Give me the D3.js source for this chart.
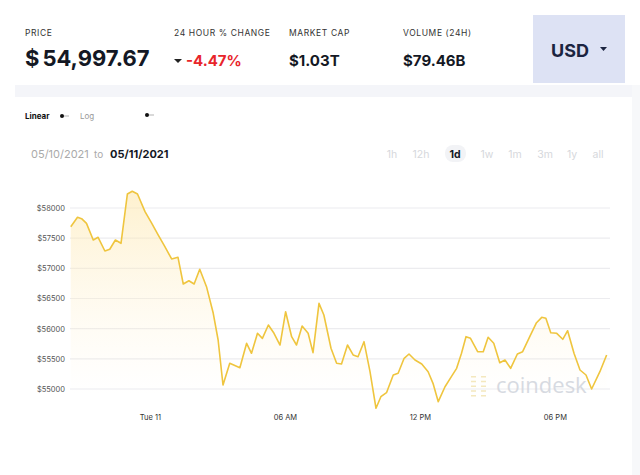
<!DOCTYPE html>
<html><head><meta charset="utf-8">
<script src="https://cdn.jsdelivr.net/npm/d3@7"></script>
<style>
html,body{margin:0;padding:0;background:#fff;}
svg{display:block;font-family:Inter,"Noto Sans",sans-serif;}
</style></head>
<body><svg id="c" width="640" height="475"></svg>
<script>
const times = ["2021-05-10 20:29","2021-05-10 20:47","2021-05-10 20:58","2021-05-10 21:11","2021-05-10 21:29","2021-05-10 21:42","2021-05-10 22:00","2021-05-10 22:13","2021-05-10 22:28","2021-05-10 22:43","2021-05-10 23:00","2021-05-10 23:13","2021-05-10 23:27","2021-05-10 23:47","2021-05-11 00:04","2021-05-11 00:22","2021-05-11 00:40","2021-05-11 00:58","2021-05-11 01:15","2021-05-11 01:29","2021-05-11 01:44","2021-05-11 01:58","2021-05-11 02:13","2021-05-11 02:31","2021-05-11 02:49","2021-05-11 03:02","2021-05-11 03:15","2021-05-11 03:33","2021-05-11 04:00","2021-05-11 04:18","2021-05-11 04:31","2021-05-11 04:47","2021-05-11 05:00","2021-05-11 05:16","2021-05-11 05:31","2021-05-11 05:47","2021-05-11 06:02","2021-05-11 06:18","2021-05-11 06:31","2021-05-11 06:46","2021-05-11 07:02","2021-05-11 07:15","2021-05-11 07:31","2021-05-11 07:44","2021-05-11 08:03","2021-05-11 08:18","2021-05-11 08:31","2021-05-11 08:47","2021-05-11 09:02","2021-05-11 09:15","2021-05-11 09:31","2021-05-11 09:47","2021-05-11 10:03","2021-05-11 10:16","2021-05-11 10:31","2021-05-11 10:49","2021-05-11 11:02","2021-05-11 11:18","2021-05-11 11:31","2021-05-11 11:47","2021-05-11 12:05","2021-05-11 12:22","2021-05-11 12:35","2021-05-11 12:49","2021-05-11 13:07","2021-05-11 13:24","2021-05-11 13:38","2021-05-11 13:51","2021-05-11 14:03","2021-05-11 14:15","2021-05-11 14:34","2021-05-11 14:49","2021-05-11 15:02","2021-05-11 15:17","2021-05-11 15:33","2021-05-11 15:47","2021-05-11 16:02","2021-05-11 16:20","2021-05-11 16:34","2021-05-11 16:53","2021-05-11 17:11","2021-05-11 17:25","2021-05-11 17:36","2021-05-11 17:49","2021-05-11 18:05","2021-05-11 18:21","2021-05-11 18:34","2021-05-11 18:51","2021-05-11 19:07","2021-05-11 19:23","2021-05-11 19:38","2021-05-11 20:00","2021-05-11 20:18"];
const prices = [57690,57846,57823,57746,57470,57514,57287,57316,57470,57415,58232,58277,58232,57939,57756,57553,57359,57155,57183,56740,56795,56740,56984,56696,56255,55812,55066,55426,55353,55757,55592,55923,55840,56061,55923,55729,56281,55867,55729,56044,55923,55602,56420,56227,55675,55426,55414,55729,55564,55535,55784,55287,54680,54872,54939,55232,55260,55509,55580,55481,55414,55287,55094,54790,55038,55204,55343,55592,55867,55840,55618,55618,55857,55757,55436,55481,55343,55580,55618,55867,56099,56188,56172,55933,55923,55824,55966,55592,55315,55232,55000,55287,55564];
const yTicks = [55000,55500,56000,56500,57000,57500,58000];
const xDomain = ["2021-05-10 20:27","2021-05-11 20:27"];
const periods = ["1h","12h","1d","1w","1m","3m","1y","all"];
const stats = [
  {label:"PRICE", value:"54,997.67"},
  {label:"24 HOUR % CHANGE", value:"-4.47%"},
  {label:"MARKET CAP", value:"$1.03T"},
  {label:"VOLUME (24H)", value:"$79.46B"}
];

const parse = d3.timeParse("%Y-%m-%d %H:%M");
const data = times.map((t,i)=>({t:parse(t), v:prices[i]}));
const svg = d3.select("#c");

// backgrounds
svg.append("rect").attr("x",0).attr("y",0).attr("width",640).attr("height",475).attr("fill","#fff");
svg.append("rect").attr("x",15).attr("y",85).attr("width",625).attr("height",12).attr("fill","#f4f5f9");
svg.append("rect").attr("x",632).attr("y",85).attr("width",8).attr("height",390).attr("fill","#f7f8fa");

// header
const hdrX = [25,174,289,403];
stats.forEach((s,i)=>{
  svg.append("text").attr("x",hdrX[i]).attr("y",36).attr("font-size",8.5).attr("letter-spacing",0.6)
    .attr("fill","#333").text(s.label);
});
const pt = svg.append("text").attr("x",25).attr("y",66).attr("font-size",22).attr("font-weight",700).attr("fill","#141824");
pt.append("tspan").text("$");
pt.append("tspan").attr("dx",3).text(stats[0].value);
svg.append("path").attr("d","M174,59 L182,59 L178,63 Z").attr("fill","#222");
svg.append("text").attr("x",186).attr("y",66).attr("font-size",15).attr("font-weight",700).attr("fill","#e8252b").text(stats[1].value);
svg.append("text").attr("x",289).attr("y",66).attr("font-size",15).attr("font-weight",700).attr("fill","#141824").text(stats[2].value);
svg.append("text").attr("x",403).attr("y",66).attr("font-size",15).attr("font-weight",700).attr("fill","#141824").text(stats[3].value);
svg.append("rect").attr("x",533).attr("y",15).attr("width",92).attr("height",68).attr("fill","#dde2f4");
svg.append("text").attr("x",551).attr("y",57).attr("font-size",18).attr("font-weight",700).attr("fill","#1b2440").text("USD");
svg.append("path").attr("d","M600,47 L607,47 L603.5,51 Z").attr("fill","#1b2440");

// toggles
svg.append("text").attr("x",25).attr("y",119).attr("font-size",8).attr("font-weight",700).attr("fill","#111").text("Linear");
svg.append("text").attr("x",80).attr("y",119).attr("font-size",8).attr("fill","#999").text("Log");
[[62,116],[147,115]].forEach(([x,y])=>{
  svg.append("line").attr("x1",x).attr("x2",x+7).attr("y1",y).attr("y2",y).attr("stroke","#ccc").attr("stroke-width",1.5);
  svg.append("circle").attr("cx",x).attr("cy",y).attr("r",2).attr("fill","#111");
});

// date range
svg.append("text").attr("x",31).attr("y",158).attr("font-size",11).attr("fill","#aaa").text("05/10/2021");
svg.append("text").attr("x",94).attr("y",158).attr("font-size",10).attr("fill","#aaa").text("to");
svg.append("text").attr("x",110).attr("y",158).attr("font-size",11).attr("font-weight",700).attr("fill","#141824").text("05/11/2021");

// periods
const px = [392,421,455,487,515,545,572,598];
svg.append("rect").attr("x",445).attr("y",145).attr("width",21).attr("height",17).attr("rx",8).attr("fill","#f2f3f6");
periods.forEach((p,i)=>{
  svg.append("text").attr("x",px[i]).attr("y",158).attr("text-anchor","middle").attr("font-size",10.5)
    .attr("font-weight",p==="1d"?700:400).attr("fill",p==="1d"?"#141824":"#d6d8dc").text(p);
});

// scales
const x = d3.scaleTime().domain(xDomain.map(parse)).range([70,610]);
const y = d3.scaleLinear().domain([55000,58000]).range([389,208]);

// gridlines + y labels
const gy = svg.append("g").attr("transform","translate(65,0)")
  .call(d3.axisLeft(y).tickValues(yTicks).tickSize(0).tickPadding(0).tickFormat(d=>"$"+d));
gy.select(".domain").remove();
gy.selectAll("text").attr("font-size",7.5).attr("fill","#555").attr("font-family","Inter,'Noto Sans',sans-serif");
svg.append("g").selectAll("line").data(yTicks).join("line")
  .attr("x1",70).attr("x2",610).attr("y1",d=>y(d)).attr("y2",d=>y(d)).attr("stroke","#ececef").attr("stroke-width",1.2);

// x axis
const gx = svg.append("g").attr("transform","translate(0,415)")
  .call(d3.axisBottom(x).ticks(d3.timeHour.every(6)).tickSize(0).tickPadding(0)
    .tickFormat(d=>d.getHours()===0?d3.timeFormat("%a %d")(d):d3.timeFormat("%I %p")(d)));
gx.select(".domain").remove();
gx.selectAll("text").attr("font-size",7.5).attr("fill","#333").attr("font-family","Inter,'Noto Sans',sans-serif");

// gradient
const defs = svg.append("defs");
const grad = defs.append("linearGradient").attr("id","fillg").attr("gradientUnits","userSpaceOnUse")
  .attr("x1",0).attr("x2",0).attr("y1",190).attr("y2",395);
grad.append("stop").attr("offset",0).attr("stop-color","#fde7ad").attr("stop-opacity",0.6);
grad.append("stop").attr("offset",1).attr("stop-color","#fff3d6").attr("stop-opacity",0);

svg.append("path").datum(data).attr("fill","url(#fillg)")
  .attr("d",d3.area().x(d=>x(d.t)).y0(395).y1(d=>y(d.v)));

// watermark
const wm = svg.append("g").attr("opacity",0.9);
[0,5,10,15,20].forEach(o=>{
  wm.append("rect").attr("x",471).attr("y",376+o*0.95).attr("width",5).attr("height",1.5).attr("fill","#f3e6b8");
  wm.append("rect").attr("x",481).attr("y",376+o*0.95).attr("width",5).attr("height",1.5).attr("fill","#f3e6b8");
});
wm.append("text").attr("x",496).attr("y",393).attr("font-size",22).attr("fill","#d3d7de").attr("font-family","'Open Sans',sans-serif").text("coindesk");

svg.append("path").datum(data).attr("fill","none").attr("stroke","#efc53e").attr("stroke-width",1.6)
  .attr("stroke-linejoin","round").attr("d",d3.line().x(d=>x(d.t)).y(d=>y(d.v)));
</script></body></html>
